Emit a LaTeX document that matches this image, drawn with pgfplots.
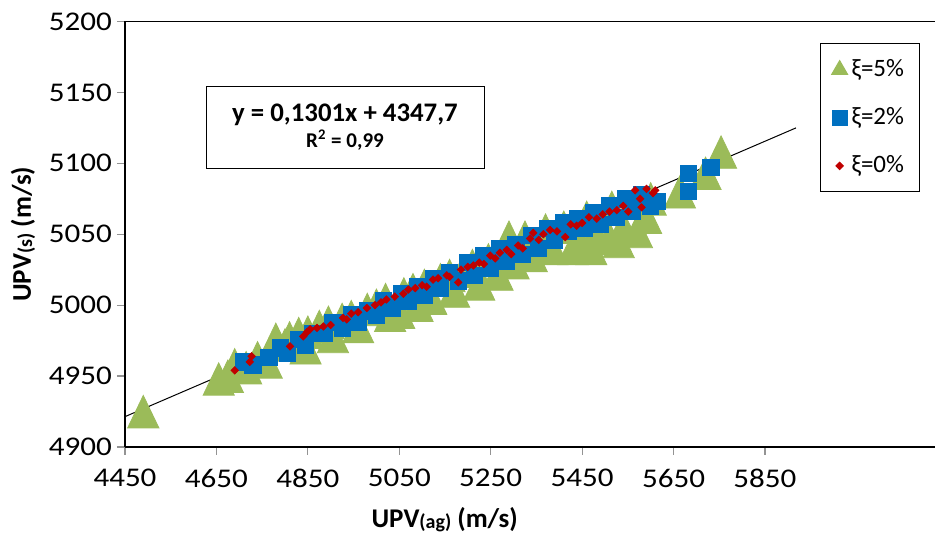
\documentclass[border=0pt]{standalone}
\usepackage{graphicx}
\usepackage{pgfplots}
\pgfplotsset{compat=1.18}
\usepackage{fontspec}
\setmainfont{Carlito}
\definecolor{xigreen}{HTML}{9BBB59}
\definecolor{xiblue}{HTML}{0070C0}
\definecolor{xired}{HTML}{C00000}
\newcommand{\fs}{\fontsize{12.5}{14}\selectfont}
\newcommand{\ft}{\fontsize{13.5}{15}\selectfont}
\newcommand{\fl}{\fontsize{13.5}{15}\selectfont}
\begin{document}
\begin{tikzpicture}
\begin{axis}[
  name=ax,
  scale only axis, width=405pt, height=212.75pt,
  xmin=4450, xmax=6222, ymin=4900, ymax=5200,
  xtick={4450,4650,4850,5050,5250,5450,5650,5850},
  ytick={4900,4950,5000,5050,5100,5150,5200},
  scaled ticks=false,
  axis x line*=box, axis y line*=left,
  xtick pos=bottom,
  tick align=outside, major tick length=4pt,
  tick style={draw=gray!85, line width=0.6pt},
  axis line style={line width=0.7pt},
  /pgf/number format/assume math mode=true,
  /pgf/number format/1000 sep={},
  xticklabel={\ft\scalebox{1.15}[1]{\pgfmathprintnumber{\tick}}},
  yticklabel={\ft\scalebox{1.15}[1]{\pgfmathprintnumber{\tick}}},
  xticklabel style={yshift=-3.5pt},
  yticklabel style={xshift=1pt},
  every axis x label/.style={at={(rel axis cs:0.3947,0)}, yshift=-36.5pt, anchor=center},
  every axis y label/.style={at={(rel axis cs:0,0.5)}, xshift=-51pt, rotate=90, anchor=center},
  xlabel={\fl\bfseries UPV\raisebox{-0.6pt}{\fontsize{10}{11}\selectfont(ag)} (m/s)},
  ylabel={\fl\bfseries UPV\raisebox{-0.6pt}{\fontsize{10}{11}\selectfont(s)} (m/s)},
  legend style={at={(rel axis cs:0.858,0.9488)}, anchor=north west, draw=black, line width=0.5pt,
    font=\fs, row sep=10pt, inner xsep=5.6pt, inner ysep=6pt},
  legend cell align=left,
  legend image code/.code={\draw[mark repeat=2,mark phase=2,#1] plot coordinates {(0cm,0cm) (0.3cm,0cm) (0.6cm,0cm)};},
]
% xi = 5%
\addplot[only marks, color=xigreen, mark=triangle*, mark size=9pt, mark options={solid, fill=xigreen, yscale=1.2, yshift=-2.3pt}, forget plot] coordinates {
(4490,4925) (4655,4948) (4675,4950) (4690,4958) (4715,4956) (4740,4963) (4760,4960)
(4780,4976) (4800,4972) (4810,4977) (4830,4980) (4845,4970) (4850,4981) (4875,4985)
(4895,4988) (4905,4978) (4925,4990) (4945,4992) (4960,4985) (4980,4997) (5000,5000)
(5020,5004) (5030,4993) (5050,4995) (5060,5008) (5080,5011) (5090,5000) (5105,5014)
(5120,5005) (5140,5018) (5160,5021) (5170,5010) (5190,5024) (5210,5028) (5225,5015)
(5245,5032) (5265,5022) (5290,5048) (5300,5030) (5325,5048) (5340,5035) (5370,5053)
(5385,5040) (5410,5055) (5430,5040) (5445,5045) (5460,5062) (5470,5040) (5480,5050)
(5510,5047) (5515,5069) (5530,5045) (5540,5055) (5570,5052) (5590,5062) (5600,5075)
(5664,5080) (5720,5093) (5754,5108)
};
% xi = 2%
\addplot[only marks, color=xiblue, mark=square*, mark size=4.1pt, mark options={solid, fill=xiblue}, forget plot] coordinates {
(4710,4960) (4730,4958) (4765,4963) (4790,4970) (4805,4966) (4830,4976) (4845,4972)
(4860,4980) (4885,4980) (4905,4988) (4925,4984) (4945,4993) (4960,4988) (4980,4996)
(5000,4993) (5015,5003) (5035,4998) (5055,5008) (5070,5003) (5090,5013) (5105,5007)
(5125,5019) (5140,5012) (5160,5023) (5180,5017) (5200,5030) (5215,5021) (5235,5035)
(5250,5026) (5270,5040) (5285,5031) (5305,5043) (5320,5036) (5340,5049) (5355,5040)
(5375,5054) (5390,5046) (5410,5058) (5420,5052) (5440,5061) (5455,5054) (5475,5065)
(5490,5057) (5510,5070) (5525,5062) (5545,5075) (5560,5066) (5580,5078) (5600,5070)
(5615,5073) (5682,5093) (5682,5080) (5732,5097)
};
% xi = 0%
\addplot[only marks, color=xired, mark=square*, mark size=1.3pt, mark options={solid, fill=xired, rotate=45}, forget plot] coordinates {
(4690,4954) (4723,4960) (4727,4964) (4811,4971) (4840,4978) (4848,4981) (4855,4983)
(4870,4984) (4884,4985) (4900,4986) (4927,4991) (4935,4990) (4945,4994) (4960,4995)
(4979,4998) (4997,5000) (5010,5002) (5022,5004) (5040,5006) (5059,5008) (5070,5011)
(5085,5012) (5100,5014) (5110,5013) (5124,5018) (5135,5019) (5154,5021) (5160,5020)
(5179,5016) (5185,5025) (5200,5027) (5212,5028) (5225,5030) (5235,5029) (5249,5035)
(5260,5033) (5270,5037) (5285,5039) (5295,5036) (5310,5042) (5320,5040) (5336,5047)
(5343,5051) (5355,5046) (5365,5050) (5380,5053) (5395,5052) (5413,5048) (5425,5057)
(5438,5056) (5450,5058) (5465,5062) (5482,5061) (5495,5064) (5510,5066) (5526,5067)
(5540,5070) (5551,5066) (5566,5081) (5577,5075) (5580,5069) (5591,5082) (5605,5079)
(5610,5081)
};
% trendline
\addplot[black, line width=0.5pt, forget plot] coordinates {(4450,4921.4) (5918,5125)};
% legend
\addlegendimage{only marks, color=xigreen, mark=triangle*, mark size=4.6pt, mark options={solid, fill=xigreen}}
\addlegendentry{ξ=5\%}
\addlegendimage{only marks, color=xiblue, mark=square*, mark size=3.8pt, mark options={solid, fill=xiblue}}
\addlegendentry{ξ=2\%}
\addlegendimage{only marks, color=xired, mark=square*, mark size=1.3pt, mark options={solid, fill=xired, rotate=45}}
\addlegendentry{ξ=0\%}
% equation box
\node[draw=black, line width=0.5pt, fill=white, minimum width=139pt, minimum height=41pt, align=center, inner sep=0pt]
  at (rel axis cs:0.2716,0.752)
  {{\fontsize{13.4}{15}\selectfont\bfseries y = 0,1301x + 4347,7}\\[1pt]{\fontsize{10.5}{12}\selectfont\bfseries R\textsuperscript{2} = 0,99}};
\end{axis}
\pgfresetboundingbox
\path[use as bounding box] ([xshift=-62.5pt,yshift=-43pt]ax.south west) rectangle ([yshift=10.75pt]ax.north east);
\end{tikzpicture}
\end{document}
